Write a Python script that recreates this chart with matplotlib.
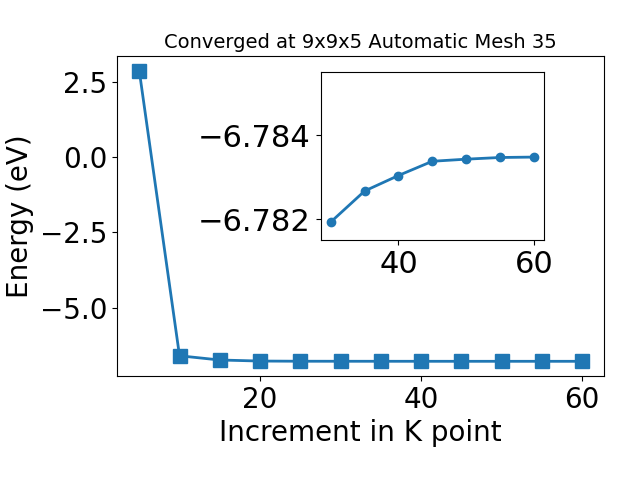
import matplotlib
matplotlib.use("Agg")
import matplotlib.pyplot as plt

kpoints = [5, 10, 15, 20, 25, 30, 35, 40, 45, 50, 55, 60]
energy = [2.86, -6.60, -6.74, -6.775, -6.781, -6.78193, -6.78267, -6.78304,
          -6.78338, -6.78343, -6.78347, -6.78348]
inset_k = [30, 35, 40, 45, 50, 55, 60]
inset_e = [-6.78193, -6.78267, -6.78304, -6.78338, -6.78343, -6.78347, -6.78348]

fig = plt.figure(figsize=(6.4, 4.8), dpi=100)
ax = fig.add_axes([0.183, 0.217, 0.761, 0.666])
ax.plot(kpoints, energy, marker='s', markersize=10, linewidth=2, color='#1f77b4')
ax.set_xlabel("Increment in K point", fontsize=20)
ax.set_ylabel("Energy (eV)", fontsize=20)
ax.set_title("Converged at 9x9x5 Automatic Mesh 35", fontsize=14)
ax.tick_params(labelsize=20)
ax.set_yticks([2.5, 0.0, -2.5, -5.0])

ins = fig.add_axes([0.501, 0.5, 0.349, 0.349])
ins.plot(inset_k, inset_e, marker='o', markersize=6, linewidth=2, color='#1f77b4')
ins.set_ylim(-6.7815, -6.7855)
ins.set_yticks([-6.784, -6.782])
ins.set_xticks([40, 60])
ins.tick_params(labelsize=22)

fig.savefig("out.png", dpi=100)
